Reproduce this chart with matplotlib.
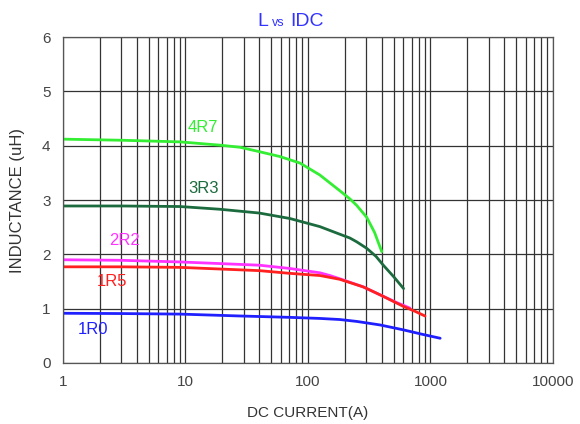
import matplotlib
matplotlib.use("Agg")
import matplotlib.pyplot as plt
import numpy as np
from matplotlib.ticker import FixedLocator, NullFormatter

plt.rcParams['font.family'] = ['Liberation Sans', 'DejaVu Sans']

# Data
names = ["4R7", "3R3", "2R2", "1R5", "1R0"]
colors = ["#33ee33", "#1c6b3e", "#ff33ff", "#ff2020", "#2020ff"]

i_4r7 = [1, 3, 9, 19, 28, 40, 59, 86, 125, 182, 220, 250, 302, 350, 400]
l_4r7 = [4.12, 4.10, 4.07, 4.01, 3.97, 3.89, 3.80, 3.68, 3.46, 3.17, 3.02, 2.90, 2.68, 2.40, 2.05]

i_3r3 = [1, 3, 9, 19, 40, 71, 125, 182, 220, 250, 302, 360, 412, 500, 603]
l_3r3 = [2.89, 2.89, 2.88, 2.83, 2.76, 2.66, 2.51, 2.37, 2.30, 2.23, 2.11, 1.96, 1.80, 1.59, 1.37]

i_2r2 = [1, 3, 9, 40, 71, 125, 151, 182, 283, 400, 520, 680]
l_2r2 = [1.90, 1.89, 1.86, 1.80, 1.74, 1.66, 1.61, 1.55, 1.40, 1.24, 1.12, 1.01]

i_1r5 = [1, 3, 9, 40, 71, 125, 151, 182, 283, 400, 603, 750, 902]
l_1r5 = [1.77, 1.77, 1.76, 1.70, 1.65, 1.61, 1.575, 1.54, 1.40, 1.24, 1.04, 0.95, 0.865]

i_1r0 = [1, 3, 9, 28, 71, 125, 182, 250, 388, 600, 850, 1200]
l_1r0 = [0.915, 0.91, 0.90, 0.865, 0.84, 0.82, 0.80, 0.765, 0.70, 0.61, 0.53, 0.455]

series_i = [i_4r7, i_3r3, i_2r2, i_1r5, i_1r0]
series_l = [l_4r7, l_3r3, l_2r2, l_1r5, l_1r0]

label_pos = [(10.5, 4.34), (10.5, 3.22), (2.4, 2.26), (1.88, 1.50), (1.33, 0.61)]

x_ticks = [1, 10, 100, 1000, 10000]
x_ticklabels = ["1", "10", "100", "1000", "10000"]
y_ticks = [0, 1, 2, 3, 4, 5, 6]

fig = plt.figure(figsize=(5.8, 4.24), dpi=100)
ax = fig.add_axes([0.1086, 0.1439, 0.8448, 0.7688])
ax.set_xscale("log")
ax.set_xlim(1, 10000)
ax.set_ylim(0, 6)

minor = [m * 10**d for d in range(4) for m in range(2, 10)]
ax.xaxis.set_major_locator(FixedLocator(x_ticks))
ax.xaxis.set_minor_locator(FixedLocator(minor))
ax.xaxis.set_minor_formatter(NullFormatter())
ax.set_xticklabels(x_ticklabels)
ax.set_yticks(y_ticks)
ax.grid(True, which="both", axis="x", color="#333333", linewidth=0.9)
ax.grid(True, which="major", axis="y", color="#333333", linewidth=0.9)
ax.tick_params(which="both", length=0, labelsize=11, colors="#444444")
ax.tick_params(axis="x", pad=9)
ax.tick_params(axis="y", pad=9)
for s in ax.spines.values():
    s.set_color("#555555")
    s.set_linewidth(0.9)

for xs, ys, c, n, (lx, ly) in zip(series_i, series_l, colors, names, label_pos):
    ax.plot(xs, ys, color=c, linewidth=2.0, solid_capstyle="round",
            solid_joinstyle="round")
    ax.text(lx, ly, n, color=c, fontsize=12, ha="left", va="center")

ax.set_xlabel("DC CURRENT(A)", fontsize=11, color="#333333", labelpad=12)
ax.set_ylabel("INDUCTANCE (uH)", fontsize=12, color="#333333", labelpad=12)

fig.text(0.453, 0.950, "L", color="#3333ff", fontsize=14, ha="center", va="center")
fig.text(0.480, 0.946, "vs", color="#3333ff", fontsize=9, ha="center", va="center")
fig.text(0.530, 0.950, "IDC", color="#3333ff", fontsize=14, ha="center", va="center")

fig.savefig("out.png", dpi=100)
